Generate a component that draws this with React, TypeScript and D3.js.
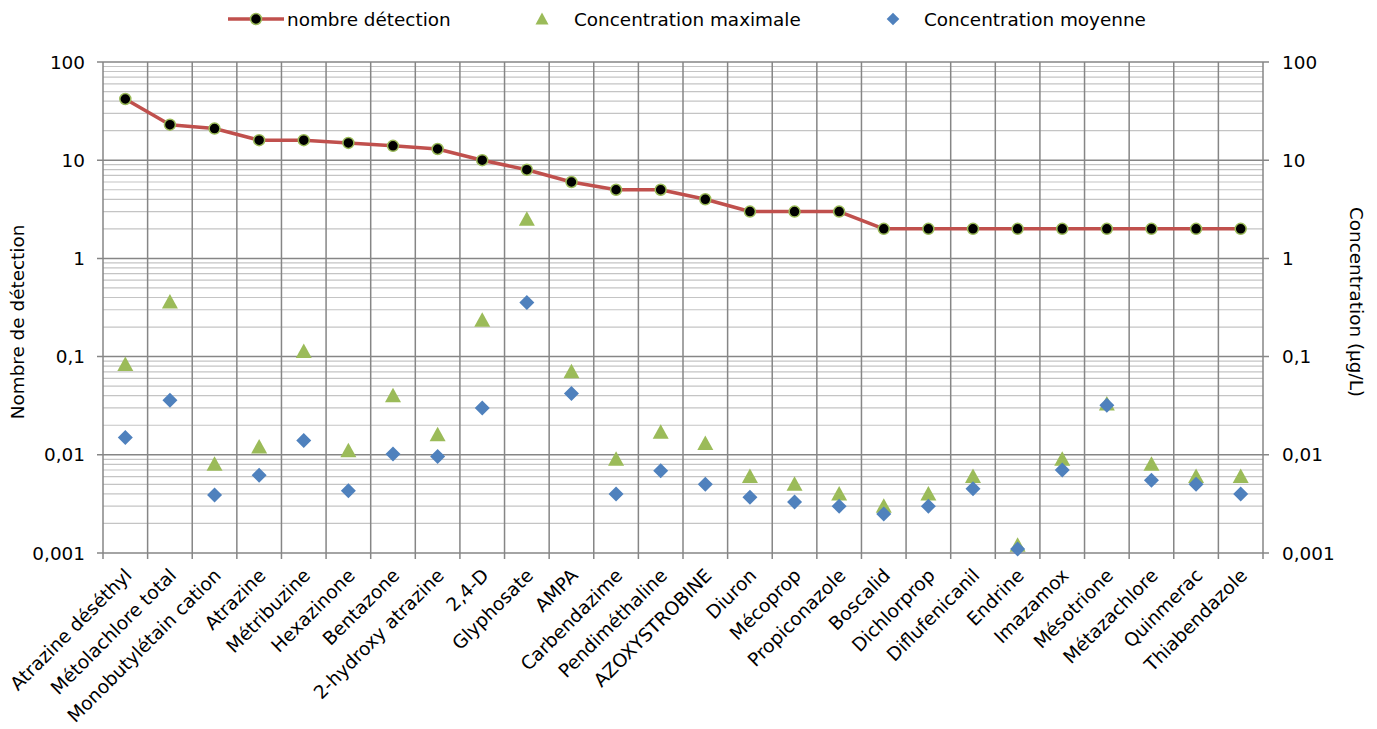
import React from "react";
import * as d3 from "d3";

const categories = [
  "Atrazine déséthyl", "Métolachlore total", "Monobutylétain cation", "Atrazine", "Métribuzine",
  "Hexazinone", "Bentazone", "2-hydroxy atrazine", "2,4-D", "Glyphosate", "AMPA", "Carbendazime",
  "Pendiméthaline", "AZOXYSTROBINE", "Diuron", "Mécoprop", "Propiconazole", "Boscalid",
  "Dichlorprop", "Diflufenicanil", "Endrine", "Imazamox", "Mésotrione", "Métazachlore",
  "Quinmerac", "Thiabendazole",
];
const nombreDetection = [42, 23, 21, 16, 16, 15, 14, 13, 10, 8, 6, 5, 5, 4, 3, 3, 3, 2, 2, 2, 2, 2, 2, 2, 2, 2];
const concMax = [0.083, 0.36, 0.008, 0.012, 0.113, 0.011, 0.04, 0.016, 0.234, 2.5, 0.07, 0.009, 0.017, 0.013,
  0.006, 0.005, 0.004, 0.003, 0.004, 0.006, 0.0012, 0.009, 0.033, 0.008, 0.006, 0.006];
const concMoy = [0.015, 0.036, 0.0039, 0.0062, 0.014, 0.0043, 0.0102, 0.0096, 0.03, 0.355, 0.042, 0.004, 0.0069,
  0.005, 0.0037, 0.0033, 0.003, 0.0025, 0.003, 0.0045, 0.0011, 0.007, 0.032, 0.0055, 0.005, 0.004];
const tickValues = [0.001, 0.01, 0.1, 1, 10, 100];
const tickLabels = ["0,001", "0,01", "0,1", "1", "10", "100"];
const legendLabels = ["nombre détection", "Concentration maximale", "Concentration moyenne"];
const leftTitle = "Nombre de détection";
const rightTitle = "Concentration (µg/L)";

const W = 1377, H = 729;
const PL = 103, PR = 1263, PT = 62, PB = 553;
const FONT = "'DejaVu Sans', Verdana, sans-serif";
const FS = 18.4;
const RED = "#C0504D", GREEN = "#9BBB59", BLUE = "#4F81BD";
const MAJOR = "#868686", MINOR = "#c4c4c4";

const TRI = "M0,-8L8,6.5L-8,6.5Z";
const DIA = "M0,-7.5L7.5,0L0,7.5L-7.5,0Z";
const TRI_S = "M0,-6.5L6.5,5.5L-6.5,5.5Z";
const DIA_S = "M0,-6.3L6.3,0L0,6.3L-6.3,0Z";

export default function App() {
  const x = d3.scaleBand<string>().domain(categories).range([PL, PR]);
  const y = d3.scaleLog().domain([0.001, 100]).range([PB, PT]);
  const cx = (c: string) => (x(c) as number) + x.bandwidth() / 2;

  const minor: number[] = [];
  for (let k = -3; k < 2; k++) for (let m = 2; m <= 9; m++) minor.push(m * Math.pow(10, k));

  const boundaries = categories.map((c) => x(c) as number).concat([PR]);

  const line = d3.line<number>().x((_, i) => cx(categories[i])).y((d) => y(d));

  return (
    <svg width={W} height={H} style={{ position: "absolute", left: 0, top: 0, background: "#fff" }} fontFamily={FONT}>
      <rect x={0} y={0} width={W} height={H} fill="#fff" />
      {minor.map((v, i) => (
        <line key={"mn" + i} x1={PL} x2={PR} y1={y(v)} y2={y(v)} stroke={MINOR} strokeWidth={1.2} />
      ))}
      {boundaries.map((bx, i) => (
        <line key={"v" + i} x1={bx} x2={bx} y1={PT} y2={PB + 6} stroke={MAJOR} strokeWidth={1.5} />
      ))}
      {tickValues.map((v, i) => (
        <line key={"mj" + i} x1={PL - 6} x2={PR + 6} y1={y(v)} y2={y(v)} stroke={MAJOR} strokeWidth={1.5} />
      ))}
      {tickValues.map((v, i) => (
        <text key={"tl" + i} x={85} y={y(v)} textAnchor="end" dominantBaseline="central" fontSize={FS} fill="#000">
          {tickLabels[i]}
        </text>
      ))}
      {tickValues.map((v, i) => (
        <text key={"tr" + i} x={1282} y={y(v)} textAnchor="start" dominantBaseline="central" fontSize={FS} fill="#000">
          {tickLabels[i]}
        </text>
      ))}
      <text transform={`translate(17,322) rotate(-90)`} textAnchor="middle" dominantBaseline="central" fontSize={FS}>
        {leftTitle}
      </text>
      <text transform={`translate(1356,302) rotate(90)`} textAnchor="middle" dominantBaseline="central" fontSize={FS}>
        {rightTitle}
      </text>
      {categories.map((c) => (
        <text key={"c" + c} transform={`translate(${cx(c) + 3},572) rotate(-45)`} textAnchor="end" dominantBaseline="central" fontSize={18.6}>
          {c}
        </text>
      ))}
      <path d={line(nombreDetection) || ""} fill="none" stroke={RED} strokeWidth={3.5} strokeLinejoin="round" />
      {nombreDetection.map((v, i) => (
        <circle key={"p" + i} cx={cx(categories[i])} cy={y(v)} r={5.5} fill="#000" stroke={GREEN} strokeWidth={1.5} />
      ))}
      {concMax.map((v, i) => (
        <path key={"t" + i} d={TRI} transform={`translate(${cx(categories[i])},${y(v)})`} fill={GREEN} />
      ))}
      {concMoy.map((v, i) => (
        <path key={"d" + i} d={DIA} transform={`translate(${cx(categories[i])},${y(v)})`} fill={BLUE} />
      ))}
      <line x1={228} x2={284} y1={19} y2={19} stroke={RED} strokeWidth={3.5} />
      <circle cx={256} cy={19} r={5.5} fill="#000" stroke={GREEN} strokeWidth={1.5} />
      <text x={287} y={19} dominantBaseline="central" fontSize={FS}>{legendLabels[0]}</text>
      <path d={TRI_S} transform="translate(542,19)" fill={GREEN} />
      <text x={574} y={19} dominantBaseline="central" fontSize={FS}>{legendLabels[1]}</text>
      <path d={DIA_S} transform="translate(893,19)" fill={BLUE} />
      <text x={924} y={19} dominantBaseline="central" fontSize={FS}>{legendLabels[2]}</text>
    </svg>
  );
}
